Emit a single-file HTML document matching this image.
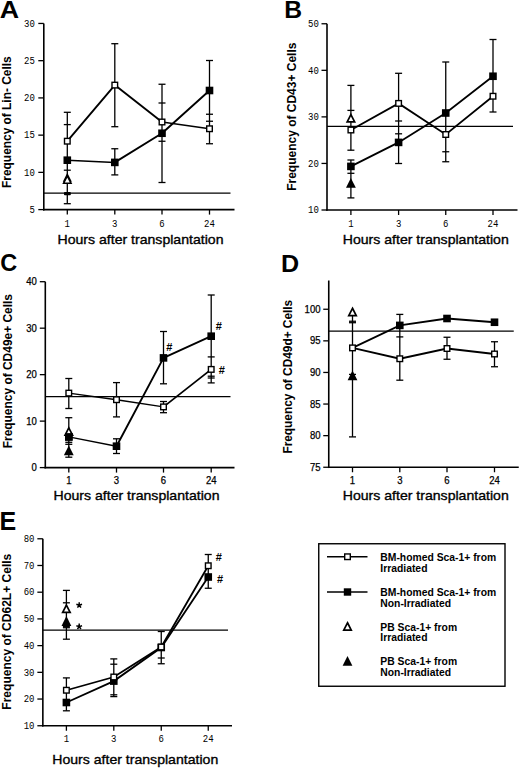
<!DOCTYPE html>
<html><head><meta charset="utf-8"><style>
html,body{margin:0;padding:0;background:#fff;}
svg{display:block;}
</style></head><body>
<svg width="520" height="768" viewBox="0 0 520 768">
<rect width="520" height="768" fill="#fff"/>
<g stroke="#000" fill="#000" font-family='"Liberation Sans", sans-serif'>
<text stroke="none" transform="translate(-0.30,17.50) scale(1.15,1)" x="0" y="0" font-size="23.3" font-weight="bold" font-family='"Liberation Sans", sans-serif'>A</text>
<line x1="43.80" y1="23.45" x2="43.80" y2="210.40" stroke-width="1.6"/>
<line x1="43.00" y1="209.60" x2="234.50" y2="209.60" stroke-width="1.6"/>
<line x1="38.30" y1="23.45" x2="43.80" y2="23.45" stroke-width="1.3"/>
<text stroke="none" x="34.80" y="26.65" font-size="10" text-anchor="end" font-family='"Liberation Mono", monospace' textLength="10.8" lengthAdjust="spacingAndGlyphs">30</text>
<line x1="38.30" y1="60.68" x2="43.80" y2="60.68" stroke-width="1.3"/>
<text stroke="none" x="34.80" y="63.88" font-size="10" text-anchor="end" font-family='"Liberation Mono", monospace' textLength="10.8" lengthAdjust="spacingAndGlyphs">25</text>
<line x1="38.30" y1="97.91" x2="43.80" y2="97.91" stroke-width="1.3"/>
<text stroke="none" x="34.80" y="101.11" font-size="10" text-anchor="end" font-family='"Liberation Mono", monospace' textLength="10.8" lengthAdjust="spacingAndGlyphs">20</text>
<line x1="38.30" y1="135.14" x2="43.80" y2="135.14" stroke-width="1.3"/>
<text stroke="none" x="34.80" y="138.34" font-size="10" text-anchor="end" font-family='"Liberation Mono", monospace' textLength="10.8" lengthAdjust="spacingAndGlyphs">15</text>
<line x1="38.30" y1="172.37" x2="43.80" y2="172.37" stroke-width="1.3"/>
<text stroke="none" x="34.80" y="175.57" font-size="10" text-anchor="end" font-family='"Liberation Mono", monospace' textLength="10.8" lengthAdjust="spacingAndGlyphs">10</text>
<line x1="38.30" y1="209.60" x2="43.80" y2="209.60" stroke-width="1.3"/>
<text stroke="none" x="34.80" y="212.80" font-size="10" text-anchor="end" font-family='"Liberation Mono", monospace' textLength="5.4" lengthAdjust="spacingAndGlyphs">5</text>
<line x1="67.30" y1="209.60" x2="67.30" y2="214.60" stroke-width="1.3"/>
<text stroke="none" x="67.30" y="226.70" font-size="10" text-anchor="middle" font-family='"Liberation Mono", monospace' textLength="5.4" lengthAdjust="spacingAndGlyphs">1</text>
<line x1="114.80" y1="209.60" x2="114.80" y2="214.60" stroke-width="1.3"/>
<text stroke="none" x="114.80" y="226.70" font-size="10" text-anchor="middle" font-family='"Liberation Mono", monospace' textLength="5.4" lengthAdjust="spacingAndGlyphs">3</text>
<line x1="162.00" y1="209.60" x2="162.00" y2="214.60" stroke-width="1.3"/>
<text stroke="none" x="162.00" y="226.70" font-size="10" text-anchor="middle" font-family='"Liberation Mono", monospace' textLength="5.4" lengthAdjust="spacingAndGlyphs">6</text>
<line x1="209.50" y1="209.60" x2="209.50" y2="214.60" stroke-width="1.3"/>
<text stroke="none" x="209.50" y="226.70" font-size="10" text-anchor="middle" font-family='"Liberation Mono", monospace' textLength="10.8" lengthAdjust="spacingAndGlyphs">24</text>
<text stroke="#000" stroke-width="0.35" x="57.50" y="244.20" font-size="13.6" font-family='"Liberation Sans", sans-serif' textLength="166" lengthAdjust="spacingAndGlyphs">Hours after transplantation</text>
<text stroke="none" transform="translate(10.70,187.90) rotate(-90)" x="0" y="0" font-size="12" font-weight="bold" font-family='"Liberation Sans", sans-serif' textLength="131.5" lengthAdjust="spacingAndGlyphs">Frequency of Lin- Cells</text>
<line x1="43.80" y1="193.20" x2="230.50" y2="193.20" stroke-width="1.25"/>
<line x1="67.30" y1="112.30" x2="67.30" y2="203.70" stroke-width="1.3"/>
<line x1="63.80" y1="112.30" x2="70.80" y2="112.30" stroke-width="1.3"/>
<line x1="63.80" y1="124.60" x2="70.80" y2="124.60" stroke-width="1.3"/>
<line x1="63.80" y1="170.20" x2="70.80" y2="170.20" stroke-width="1.3"/>
<line x1="63.80" y1="203.70" x2="70.80" y2="203.70" stroke-width="1.3"/>
<line x1="114.80" y1="43.70" x2="114.80" y2="126.70" stroke-width="1.3"/>
<line x1="114.80" y1="148.75" x2="114.80" y2="174.90" stroke-width="1.3"/>
<line x1="111.30" y1="43.70" x2="118.30" y2="43.70" stroke-width="1.3"/>
<line x1="111.30" y1="126.70" x2="118.30" y2="126.70" stroke-width="1.3"/>
<line x1="111.30" y1="148.75" x2="118.30" y2="148.75" stroke-width="1.3"/>
<line x1="111.30" y1="174.90" x2="118.30" y2="174.90" stroke-width="1.3"/>
<line x1="162.00" y1="84.25" x2="162.00" y2="182.50" stroke-width="1.3"/>
<line x1="158.50" y1="84.25" x2="165.50" y2="84.25" stroke-width="1.3"/>
<line x1="158.50" y1="103.00" x2="165.50" y2="103.00" stroke-width="1.3"/>
<line x1="158.50" y1="141.25" x2="165.50" y2="141.25" stroke-width="1.3"/>
<line x1="158.50" y1="182.50" x2="165.50" y2="182.50" stroke-width="1.3"/>
<line x1="209.50" y1="60.50" x2="209.50" y2="143.75" stroke-width="1.3"/>
<line x1="206.00" y1="60.50" x2="213.00" y2="60.50" stroke-width="1.3"/>
<line x1="206.00" y1="114.25" x2="213.00" y2="114.25" stroke-width="1.3"/>
<line x1="206.00" y1="121.25" x2="213.00" y2="121.25" stroke-width="1.3"/>
<line x1="206.00" y1="143.75" x2="213.00" y2="143.75" stroke-width="1.3"/>
<line x1="67.30" y1="141.20" x2="114.80" y2="85.10" stroke-width="1.9" stroke-linecap="round"/>
<line x1="114.80" y1="85.10" x2="162.00" y2="122.00" stroke-width="1.9" stroke-linecap="round"/>
<line x1="162.00" y1="122.00" x2="209.50" y2="128.75" stroke-width="1.5" stroke-linecap="round"/>
<line x1="67.30" y1="160.20" x2="114.80" y2="162.40" stroke-width="1.5" stroke-linecap="round"/>
<line x1="114.80" y1="162.40" x2="162.00" y2="133.25" stroke-width="1.9" stroke-linecap="round"/>
<line x1="162.00" y1="133.25" x2="209.50" y2="90.50" stroke-width="1.9" stroke-linecap="round"/>
<rect x="64.50" y="138.40" width="5.60" height="5.60" fill="#fff" stroke-width="1.4"/>
<rect x="112.00" y="82.30" width="5.60" height="5.60" fill="#fff" stroke-width="1.4"/>
<rect x="159.20" y="119.20" width="5.60" height="5.60" fill="#fff" stroke-width="1.4"/>
<rect x="206.70" y="125.95" width="5.60" height="5.60" fill="#fff" stroke-width="1.4"/>
<rect x="63.50" y="156.40" width="7.60" height="7.60" fill="#000" stroke="none"/>
<rect x="111.00" y="158.60" width="7.60" height="7.60" fill="#000" stroke="none"/>
<rect x="158.20" y="129.45" width="7.60" height="7.60" fill="#000" stroke="none"/>
<rect x="205.70" y="86.70" width="7.60" height="7.60" fill="#000" stroke="none"/>
<path d="M67.30,172.80 L71.80,181.80 L62.80,181.80 Z" fill="#000" stroke="none"/>
<path d="M67.30,175.99 L71.00,183.21 L63.60,183.21 Z" fill="#fff" stroke-width="1.6" stroke-linejoin="miter"/>
<rect x="64.0" y="192.0" width="6.8" height="3.2" rx="0.8" fill="#000" stroke="none"/>
<text stroke="none" transform="translate(284.30,17.90) scale(1.05,1)" x="0" y="0" font-size="23.5" font-weight="bold" font-family='"Liberation Sans", sans-serif'>B</text>
<line x1="327.00" y1="23.76" x2="327.00" y2="210.80" stroke-width="1.6"/>
<line x1="326.20" y1="210.00" x2="517.50" y2="210.00" stroke-width="1.6"/>
<line x1="321.50" y1="23.76" x2="327.00" y2="23.76" stroke-width="1.3"/>
<text stroke="none" x="318.90" y="26.96" font-size="10" text-anchor="end" font-family='"Liberation Mono", monospace' textLength="10.8" lengthAdjust="spacingAndGlyphs">50</text>
<line x1="321.50" y1="70.32" x2="327.00" y2="70.32" stroke-width="1.3"/>
<text stroke="none" x="318.90" y="73.52" font-size="10" text-anchor="end" font-family='"Liberation Mono", monospace' textLength="10.8" lengthAdjust="spacingAndGlyphs">40</text>
<line x1="321.50" y1="116.88" x2="327.00" y2="116.88" stroke-width="1.3"/>
<text stroke="none" x="318.90" y="120.08" font-size="10" text-anchor="end" font-family='"Liberation Mono", monospace' textLength="10.8" lengthAdjust="spacingAndGlyphs">30</text>
<line x1="321.50" y1="163.44" x2="327.00" y2="163.44" stroke-width="1.3"/>
<text stroke="none" x="318.90" y="166.64" font-size="10" text-anchor="end" font-family='"Liberation Mono", monospace' textLength="10.8" lengthAdjust="spacingAndGlyphs">20</text>
<line x1="321.50" y1="210.00" x2="327.00" y2="210.00" stroke-width="1.3"/>
<text stroke="none" x="318.90" y="213.20" font-size="10" text-anchor="end" font-family='"Liberation Mono", monospace' textLength="10.8" lengthAdjust="spacingAndGlyphs">10</text>
<line x1="350.90" y1="210.00" x2="350.90" y2="215.00" stroke-width="1.3"/>
<text stroke="none" x="350.90" y="226.95" font-size="10" text-anchor="middle" font-family='"Liberation Mono", monospace' textLength="5.4" lengthAdjust="spacingAndGlyphs">1</text>
<line x1="398.60" y1="210.00" x2="398.60" y2="215.00" stroke-width="1.3"/>
<text stroke="none" x="398.60" y="226.95" font-size="10" text-anchor="middle" font-family='"Liberation Mono", monospace' textLength="5.4" lengthAdjust="spacingAndGlyphs">3</text>
<line x1="445.75" y1="210.00" x2="445.75" y2="215.00" stroke-width="1.3"/>
<text stroke="none" x="445.75" y="226.95" font-size="10" text-anchor="middle" font-family='"Liberation Mono", monospace' textLength="5.4" lengthAdjust="spacingAndGlyphs">6</text>
<line x1="493.00" y1="210.00" x2="493.00" y2="215.00" stroke-width="1.3"/>
<text stroke="none" x="493.00" y="226.95" font-size="10" text-anchor="middle" font-family='"Liberation Mono", monospace' textLength="10.8" lengthAdjust="spacingAndGlyphs">24</text>
<text stroke="#000" stroke-width="0.35" x="342.75" y="244.30" font-size="13.6" font-family='"Liberation Sans", sans-serif' textLength="166" lengthAdjust="spacingAndGlyphs">Hours after transplantation</text>
<text stroke="none" transform="translate(295.60,190.80) rotate(-90)" x="0" y="0" font-size="12" font-weight="bold" font-family='"Liberation Sans", sans-serif' textLength="148.2" lengthAdjust="spacingAndGlyphs">Frequency of CD43+ Cells</text>
<line x1="327.00" y1="126.30" x2="513.00" y2="126.30" stroke-width="1.25"/>
<line x1="350.90" y1="85.40" x2="350.90" y2="150.20" stroke-width="1.3"/>
<line x1="350.90" y1="160.00" x2="350.90" y2="197.90" stroke-width="1.3"/>
<line x1="347.40" y1="85.40" x2="354.40" y2="85.40" stroke-width="1.3"/>
<line x1="347.40" y1="110.40" x2="354.40" y2="110.40" stroke-width="1.3"/>
<line x1="347.40" y1="150.20" x2="354.40" y2="150.20" stroke-width="1.3"/>
<line x1="347.40" y1="160.00" x2="354.40" y2="160.00" stroke-width="1.3"/>
<line x1="347.40" y1="173.30" x2="354.40" y2="173.30" stroke-width="1.3"/>
<line x1="347.40" y1="197.90" x2="354.40" y2="197.90" stroke-width="1.3"/>
<line x1="398.60" y1="73.30" x2="398.60" y2="163.50" stroke-width="1.3"/>
<line x1="395.10" y1="73.30" x2="402.10" y2="73.30" stroke-width="1.3"/>
<line x1="395.10" y1="121.00" x2="402.10" y2="121.00" stroke-width="1.3"/>
<line x1="395.10" y1="133.80" x2="402.10" y2="133.80" stroke-width="1.3"/>
<line x1="395.10" y1="163.50" x2="402.10" y2="163.50" stroke-width="1.3"/>
<line x1="445.75" y1="62.00" x2="445.75" y2="161.75" stroke-width="1.3"/>
<line x1="442.25" y1="62.00" x2="449.25" y2="62.00" stroke-width="1.3"/>
<line x1="442.25" y1="151.75" x2="449.25" y2="151.75" stroke-width="1.3"/>
<line x1="442.25" y1="161.75" x2="449.25" y2="161.75" stroke-width="1.3"/>
<line x1="493.00" y1="39.50" x2="493.00" y2="112.00" stroke-width="1.3"/>
<line x1="489.50" y1="39.50" x2="496.50" y2="39.50" stroke-width="1.3"/>
<line x1="489.50" y1="112.00" x2="496.50" y2="112.00" stroke-width="1.3"/>
<polyline points="350.90,130.00 398.60,103.40 445.75,134.50 493.00,96.25" fill="none" stroke-width="1.8"/>
<polyline points="350.90,166.40 398.60,142.40 445.75,113.00 493.00,76.25" fill="none" stroke-width="1.8"/>
<rect x="348.10" y="127.20" width="5.60" height="5.60" fill="#fff" stroke-width="1.4"/>
<rect x="395.80" y="100.60" width="5.60" height="5.60" fill="#fff" stroke-width="1.4"/>
<rect x="442.95" y="131.70" width="5.60" height="5.60" fill="#fff" stroke-width="1.4"/>
<rect x="490.20" y="93.45" width="5.60" height="5.60" fill="#fff" stroke-width="1.4"/>
<rect x="347.10" y="162.60" width="7.60" height="7.60" fill="#000" stroke="none"/>
<rect x="394.80" y="138.60" width="7.60" height="7.60" fill="#000" stroke="none"/>
<rect x="441.95" y="109.20" width="7.60" height="7.60" fill="#000" stroke="none"/>
<rect x="489.20" y="72.45" width="7.60" height="7.60" fill="#000" stroke="none"/>
<path d="M350.90,114.54 L354.65,121.86 L347.15,121.86 Z" fill="#fff" stroke-width="1.7" stroke-linejoin="miter"/>
<path d="M350.90,178.00 L355.80,187.80 L346.00,187.80 Z" fill="#000" stroke="none"/>
<text stroke="none" transform="translate(0.30,271.20) scale(1.0,1)" x="0" y="0" font-size="23.5" font-weight="bold" font-family='"Liberation Sans", sans-serif'>C</text>
<line x1="45.30" y1="281.70" x2="45.30" y2="468.40" stroke-width="1.6"/>
<line x1="44.50" y1="467.60" x2="234.50" y2="467.60" stroke-width="1.6"/>
<line x1="39.80" y1="281.70" x2="45.30" y2="281.70" stroke-width="1.3"/>
<text stroke="#000" stroke-width="0.25" x="36.80" y="285.30" font-size="10" text-anchor="end" font-family='"Liberation Sans", sans-serif' textLength="10.6" lengthAdjust="spacingAndGlyphs">40</text>
<line x1="39.80" y1="328.18" x2="45.30" y2="328.18" stroke-width="1.3"/>
<text stroke="#000" stroke-width="0.25" x="36.80" y="331.78" font-size="10" text-anchor="end" font-family='"Liberation Sans", sans-serif' textLength="10.6" lengthAdjust="spacingAndGlyphs">30</text>
<line x1="39.80" y1="374.65" x2="45.30" y2="374.65" stroke-width="1.3"/>
<text stroke="#000" stroke-width="0.25" x="36.80" y="378.25" font-size="10" text-anchor="end" font-family='"Liberation Sans", sans-serif' textLength="10.6" lengthAdjust="spacingAndGlyphs">20</text>
<line x1="39.80" y1="421.12" x2="45.30" y2="421.12" stroke-width="1.3"/>
<text stroke="#000" stroke-width="0.25" x="36.80" y="424.73" font-size="10" text-anchor="end" font-family='"Liberation Sans", sans-serif' textLength="10.6" lengthAdjust="spacingAndGlyphs">10</text>
<line x1="39.80" y1="467.60" x2="45.30" y2="467.60" stroke-width="1.3"/>
<text stroke="#000" stroke-width="0.25" x="36.80" y="471.20" font-size="10" text-anchor="end" font-family='"Liberation Sans", sans-serif' textLength="5.3" lengthAdjust="spacingAndGlyphs">0</text>
<line x1="68.80" y1="467.60" x2="68.80" y2="472.60" stroke-width="1.3"/>
<text stroke="#000" stroke-width="0.25" x="68.80" y="483.85" font-size="10" text-anchor="middle" font-family='"Liberation Sans", sans-serif' textLength="5.3" lengthAdjust="spacingAndGlyphs">1</text>
<line x1="116.50" y1="467.60" x2="116.50" y2="472.60" stroke-width="1.3"/>
<text stroke="#000" stroke-width="0.25" x="116.50" y="483.85" font-size="10" text-anchor="middle" font-family='"Liberation Sans", sans-serif' textLength="5.3" lengthAdjust="spacingAndGlyphs">3</text>
<line x1="163.50" y1="467.60" x2="163.50" y2="472.60" stroke-width="1.3"/>
<text stroke="#000" stroke-width="0.25" x="163.50" y="483.85" font-size="10" text-anchor="middle" font-family='"Liberation Sans", sans-serif' textLength="5.3" lengthAdjust="spacingAndGlyphs">6</text>
<line x1="211.20" y1="467.60" x2="211.20" y2="472.60" stroke-width="1.3"/>
<text stroke="#000" stroke-width="0.25" x="211.20" y="483.85" font-size="10" text-anchor="middle" font-family='"Liberation Sans", sans-serif' textLength="10.6" lengthAdjust="spacingAndGlyphs">24</text>
<text stroke="#000" stroke-width="0.35" x="53.50" y="500.30" font-size="13.6" font-family='"Liberation Sans", sans-serif' textLength="166" lengthAdjust="spacingAndGlyphs">Hours after transplantation</text>
<text stroke="none" transform="translate(11.80,448.30) rotate(-90)" x="0" y="0" font-size="12" font-weight="bold" font-family='"Liberation Sans", sans-serif' textLength="154.3" lengthAdjust="spacingAndGlyphs">Frequency of CD49e+ Cells</text>
<line x1="45.30" y1="396.50" x2="230.50" y2="396.50" stroke-width="1.25"/>
<line x1="68.80" y1="378.50" x2="68.80" y2="408.50" stroke-width="1.3"/>
<line x1="68.80" y1="417.70" x2="68.80" y2="457.20" stroke-width="1.3"/>
<line x1="65.30" y1="378.50" x2="72.30" y2="378.50" stroke-width="1.3"/>
<line x1="65.30" y1="408.50" x2="72.30" y2="408.50" stroke-width="1.3"/>
<line x1="65.30" y1="417.70" x2="72.30" y2="417.70" stroke-width="1.3"/>
<line x1="65.30" y1="442.30" x2="72.30" y2="442.30" stroke-width="1.3"/>
<line x1="65.30" y1="444.30" x2="72.30" y2="444.30" stroke-width="1.3"/>
<line x1="65.30" y1="457.20" x2="72.30" y2="457.20" stroke-width="1.3"/>
<line x1="116.50" y1="382.60" x2="116.50" y2="416.90" stroke-width="1.3"/>
<line x1="116.50" y1="438.80" x2="116.50" y2="453.50" stroke-width="1.3"/>
<line x1="113.00" y1="382.60" x2="120.00" y2="382.60" stroke-width="1.3"/>
<line x1="113.00" y1="416.90" x2="120.00" y2="416.90" stroke-width="1.3"/>
<line x1="113.00" y1="438.80" x2="120.00" y2="438.80" stroke-width="1.3"/>
<line x1="113.00" y1="453.50" x2="120.00" y2="453.50" stroke-width="1.3"/>
<line x1="163.50" y1="331.50" x2="163.50" y2="383.80" stroke-width="1.3"/>
<line x1="163.50" y1="401.50" x2="163.50" y2="412.70" stroke-width="1.3"/>
<line x1="160.00" y1="331.50" x2="167.00" y2="331.50" stroke-width="1.3"/>
<line x1="160.00" y1="383.80" x2="167.00" y2="383.80" stroke-width="1.3"/>
<line x1="160.00" y1="401.50" x2="167.00" y2="401.50" stroke-width="1.3"/>
<line x1="160.00" y1="412.70" x2="167.00" y2="412.70" stroke-width="1.3"/>
<line x1="211.20" y1="295.00" x2="211.20" y2="382.90" stroke-width="1.3"/>
<line x1="207.70" y1="295.00" x2="214.70" y2="295.00" stroke-width="1.3"/>
<line x1="207.70" y1="356.90" x2="214.70" y2="356.90" stroke-width="1.3"/>
<line x1="207.70" y1="376.20" x2="214.70" y2="376.20" stroke-width="1.3"/>
<line x1="207.70" y1="378.00" x2="214.70" y2="378.00" stroke-width="1.3"/>
<line x1="207.70" y1="382.90" x2="214.70" y2="382.90" stroke-width="1.3"/>
<line x1="68.80" y1="393.10" x2="116.50" y2="399.70" stroke-width="1.4" stroke-linecap="round"/>
<line x1="116.50" y1="399.70" x2="163.50" y2="406.90" stroke-width="1.4" stroke-linecap="round"/>
<line x1="163.50" y1="406.90" x2="211.20" y2="369.40" stroke-width="1.8" stroke-linecap="round"/>
<line x1="68.80" y1="436.90" x2="116.50" y2="446.20" stroke-width="1.4" stroke-linecap="round"/>
<line x1="116.50" y1="446.20" x2="163.50" y2="357.90" stroke-width="1.9" stroke-linecap="round"/>
<line x1="163.50" y1="357.90" x2="211.20" y2="336.20" stroke-width="1.9" stroke-linecap="round"/>
<rect x="66.00" y="390.30" width="5.60" height="5.60" fill="#fff" stroke-width="1.4"/>
<rect x="113.70" y="396.90" width="5.60" height="5.60" fill="#fff" stroke-width="1.4"/>
<rect x="160.70" y="404.10" width="5.60" height="5.60" fill="#fff" stroke-width="1.4"/>
<rect x="208.40" y="366.60" width="5.60" height="5.60" fill="#fff" stroke-width="1.4"/>
<rect x="65.00" y="433.10" width="7.60" height="7.60" fill="#000" stroke="none"/>
<rect x="112.70" y="442.40" width="7.60" height="7.60" fill="#000" stroke="none"/>
<rect x="159.70" y="354.10" width="7.60" height="7.60" fill="#000" stroke="none"/>
<rect x="207.40" y="332.40" width="7.60" height="7.60" fill="#000" stroke="none"/>
<path d="M68.80,427.84 L72.55,435.16 L65.05,435.16 Z" fill="#fff" stroke-width="1.7" stroke-linejoin="miter"/>
<rect x="65.00" y="433.10" width="7.60" height="7.60" fill="#000" stroke="none"/>
<path d="M68.80,445.40 L73.70,455.20 L63.90,455.20 Z" fill="#000" stroke="none"/>
<text stroke="none" x="169.20" y="350.90" font-size="11" font-weight="bold" text-anchor="middle" font-family='"Liberation Sans", sans-serif'>#</text>
<text stroke="none" x="218.80" y="329.80" font-size="11" font-weight="bold" text-anchor="middle" font-family='"Liberation Sans", sans-serif'>#</text>
<text stroke="none" x="221.70" y="374.40" font-size="11" font-weight="bold" text-anchor="middle" font-family='"Liberation Sans", sans-serif'>#</text>
<text stroke="none" transform="translate(281.00,271.90) scale(1.07,1)" x="0" y="0" font-size="23.5" font-weight="bold" font-family='"Liberation Sans", sans-serif'>D</text>
<line x1="328.75" y1="280.50" x2="328.75" y2="468.05" stroke-width="1.6"/>
<line x1="327.95" y1="467.25" x2="518.75" y2="467.25" stroke-width="1.6"/>
<line x1="323.25" y1="309.25" x2="328.75" y2="309.25" stroke-width="1.3"/>
<text stroke="#000" stroke-width="0.25" x="320.50" y="312.85" font-size="10" text-anchor="end" font-family='"Liberation Sans", sans-serif' textLength="15.9" lengthAdjust="spacingAndGlyphs">100</text>
<line x1="323.25" y1="340.85" x2="328.75" y2="340.85" stroke-width="1.3"/>
<text stroke="#000" stroke-width="0.25" x="320.50" y="344.45" font-size="10" text-anchor="end" font-family='"Liberation Sans", sans-serif' textLength="10.6" lengthAdjust="spacingAndGlyphs">95</text>
<line x1="323.25" y1="372.45" x2="328.75" y2="372.45" stroke-width="1.3"/>
<text stroke="#000" stroke-width="0.25" x="320.50" y="376.05" font-size="10" text-anchor="end" font-family='"Liberation Sans", sans-serif' textLength="10.6" lengthAdjust="spacingAndGlyphs">90</text>
<line x1="323.25" y1="404.05" x2="328.75" y2="404.05" stroke-width="1.3"/>
<text stroke="#000" stroke-width="0.25" x="320.50" y="407.65" font-size="10" text-anchor="end" font-family='"Liberation Sans", sans-serif' textLength="10.6" lengthAdjust="spacingAndGlyphs">85</text>
<line x1="323.25" y1="435.65" x2="328.75" y2="435.65" stroke-width="1.3"/>
<text stroke="#000" stroke-width="0.25" x="320.50" y="439.25" font-size="10" text-anchor="end" font-family='"Liberation Sans", sans-serif' textLength="10.6" lengthAdjust="spacingAndGlyphs">80</text>
<line x1="323.25" y1="467.25" x2="328.75" y2="467.25" stroke-width="1.3"/>
<text stroke="#000" stroke-width="0.25" x="320.50" y="470.85" font-size="10" text-anchor="end" font-family='"Liberation Sans", sans-serif' textLength="10.6" lengthAdjust="spacingAndGlyphs">75</text>
<line x1="352.50" y1="467.25" x2="352.50" y2="472.25" stroke-width="1.3"/>
<text stroke="#000" stroke-width="0.25" x="352.50" y="483.85" font-size="10" text-anchor="middle" font-family='"Liberation Sans", sans-serif' textLength="5.3" lengthAdjust="spacingAndGlyphs">1</text>
<line x1="399.80" y1="467.25" x2="399.80" y2="472.25" stroke-width="1.3"/>
<text stroke="#000" stroke-width="0.25" x="399.80" y="483.85" font-size="10" text-anchor="middle" font-family='"Liberation Sans", sans-serif' textLength="5.3" lengthAdjust="spacingAndGlyphs">3</text>
<line x1="447.00" y1="467.25" x2="447.00" y2="472.25" stroke-width="1.3"/>
<text stroke="#000" stroke-width="0.25" x="447.00" y="483.85" font-size="10" text-anchor="middle" font-family='"Liberation Sans", sans-serif' textLength="5.3" lengthAdjust="spacingAndGlyphs">6</text>
<line x1="494.50" y1="467.25" x2="494.50" y2="472.25" stroke-width="1.3"/>
<text stroke="#000" stroke-width="0.25" x="494.50" y="483.85" font-size="10" text-anchor="middle" font-family='"Liberation Sans", sans-serif' textLength="10.6" lengthAdjust="spacingAndGlyphs">24</text>
<text stroke="#000" stroke-width="0.35" x="342.75" y="500.30" font-size="13.6" font-family='"Liberation Sans", sans-serif' textLength="166" lengthAdjust="spacingAndGlyphs">Hours after transplantation</text>
<text stroke="none" transform="translate(291.80,453.60) rotate(-90)" x="0" y="0" font-size="12" font-weight="bold" font-family='"Liberation Sans", sans-serif' textLength="153.8" lengthAdjust="spacingAndGlyphs">Frequency of CD49d+ Cells</text>
<line x1="328.75" y1="331.00" x2="513.75" y2="331.00" stroke-width="1.25"/>
<line x1="352.50" y1="315.50" x2="352.50" y2="436.90" stroke-width="1.3"/>
<line x1="349.00" y1="321.25" x2="356.00" y2="321.25" stroke-width="1.3"/>
<line x1="349.00" y1="322.70" x2="356.00" y2="322.70" stroke-width="1.3"/>
<line x1="349.00" y1="374.40" x2="356.00" y2="374.40" stroke-width="1.3"/>
<line x1="349.00" y1="436.90" x2="356.00" y2="436.90" stroke-width="1.3"/>
<line x1="399.80" y1="314.40" x2="399.80" y2="380.20" stroke-width="1.3"/>
<line x1="396.30" y1="314.40" x2="403.30" y2="314.40" stroke-width="1.3"/>
<line x1="396.30" y1="336.90" x2="403.30" y2="336.90" stroke-width="1.3"/>
<line x1="396.30" y1="380.20" x2="403.30" y2="380.20" stroke-width="1.3"/>
<line x1="447.00" y1="337.25" x2="447.00" y2="359.25" stroke-width="1.3"/>
<line x1="443.50" y1="337.25" x2="450.50" y2="337.25" stroke-width="1.3"/>
<line x1="443.50" y1="359.25" x2="450.50" y2="359.25" stroke-width="1.3"/>
<line x1="494.50" y1="341.75" x2="494.50" y2="366.75" stroke-width="1.3"/>
<line x1="491.00" y1="341.75" x2="498.00" y2="341.75" stroke-width="1.3"/>
<line x1="491.00" y1="366.75" x2="498.00" y2="366.75" stroke-width="1.3"/>
<polyline points="352.50,347.90 399.80,358.75 447.00,348.50 494.50,354.00" fill="none" stroke-width="1.8"/>
<polyline points="352.50,347.90 399.80,325.40 447.00,318.50 494.50,322.25" fill="none" stroke-width="1.8"/>
<rect x="396.00" y="321.60" width="7.60" height="7.60" fill="#000" stroke="none"/>
<rect x="443.20" y="314.70" width="7.60" height="7.60" fill="#000" stroke="none"/>
<rect x="490.70" y="318.45" width="7.60" height="7.60" fill="#000" stroke="none"/>
<rect x="349.70" y="345.10" width="5.60" height="5.60" fill="#fff" stroke-width="1.4"/>
<rect x="397.00" y="355.95" width="5.60" height="5.60" fill="#fff" stroke-width="1.4"/>
<rect x="444.20" y="345.70" width="5.60" height="5.60" fill="#fff" stroke-width="1.4"/>
<rect x="491.70" y="351.20" width="5.60" height="5.60" fill="#fff" stroke-width="1.4"/>
<path d="M352.50,308.24 L356.25,315.56 L348.75,315.56 Z" fill="#fff" stroke-width="1.7" stroke-linejoin="miter"/>
<path d="M352.50,370.50 L357.40,380.30 L347.60,380.30 Z" fill="#000" stroke="none"/>
<text stroke="none" transform="translate(-0.50,529.60) scale(1.0,1)" x="0" y="0" font-size="25" font-weight="bold" font-family='"Liberation Sans", sans-serif'>E</text>
<line x1="42.85" y1="538.78" x2="42.85" y2="726.55" stroke-width="1.6"/>
<line x1="42.05" y1="725.75" x2="232.00" y2="725.75" stroke-width="1.6"/>
<line x1="37.35" y1="538.78" x2="42.85" y2="538.78" stroke-width="1.3"/>
<text stroke="none" x="34.50" y="541.98" font-size="10" text-anchor="end" font-family='"Liberation Mono", monospace' textLength="10.8" lengthAdjust="spacingAndGlyphs">80</text>
<line x1="37.35" y1="565.49" x2="42.85" y2="565.49" stroke-width="1.3"/>
<text stroke="none" x="34.50" y="568.69" font-size="10" text-anchor="end" font-family='"Liberation Mono", monospace' textLength="10.8" lengthAdjust="spacingAndGlyphs">70</text>
<line x1="37.35" y1="592.20" x2="42.85" y2="592.20" stroke-width="1.3"/>
<text stroke="none" x="34.50" y="595.40" font-size="10" text-anchor="end" font-family='"Liberation Mono", monospace' textLength="10.8" lengthAdjust="spacingAndGlyphs">60</text>
<line x1="37.35" y1="618.91" x2="42.85" y2="618.91" stroke-width="1.3"/>
<text stroke="none" x="34.50" y="622.11" font-size="10" text-anchor="end" font-family='"Liberation Mono", monospace' textLength="10.8" lengthAdjust="spacingAndGlyphs">50</text>
<line x1="37.35" y1="645.62" x2="42.85" y2="645.62" stroke-width="1.3"/>
<text stroke="none" x="34.50" y="648.82" font-size="10" text-anchor="end" font-family='"Liberation Mono", monospace' textLength="10.8" lengthAdjust="spacingAndGlyphs">40</text>
<line x1="37.35" y1="672.33" x2="42.85" y2="672.33" stroke-width="1.3"/>
<text stroke="none" x="34.50" y="675.53" font-size="10" text-anchor="end" font-family='"Liberation Mono", monospace' textLength="10.8" lengthAdjust="spacingAndGlyphs">30</text>
<line x1="37.35" y1="699.04" x2="42.85" y2="699.04" stroke-width="1.3"/>
<text stroke="none" x="34.50" y="702.24" font-size="10" text-anchor="end" font-family='"Liberation Mono", monospace' textLength="10.8" lengthAdjust="spacingAndGlyphs">20</text>
<line x1="37.35" y1="725.75" x2="42.85" y2="725.75" stroke-width="1.3"/>
<text stroke="none" x="34.50" y="728.95" font-size="10" text-anchor="end" font-family='"Liberation Mono", monospace' textLength="10.8" lengthAdjust="spacingAndGlyphs">10</text>
<line x1="66.40" y1="725.75" x2="66.40" y2="730.75" stroke-width="1.3"/>
<text stroke="none" x="66.40" y="742.45" font-size="10" text-anchor="middle" font-family='"Liberation Mono", monospace' textLength="5.4" lengthAdjust="spacingAndGlyphs">1</text>
<line x1="113.80" y1="725.75" x2="113.80" y2="730.75" stroke-width="1.3"/>
<text stroke="none" x="113.80" y="742.45" font-size="10" text-anchor="middle" font-family='"Liberation Mono", monospace' textLength="5.4" lengthAdjust="spacingAndGlyphs">3</text>
<line x1="161.25" y1="725.75" x2="161.25" y2="730.75" stroke-width="1.3"/>
<text stroke="none" x="161.25" y="742.45" font-size="10" text-anchor="middle" font-family='"Liberation Mono", monospace' textLength="5.4" lengthAdjust="spacingAndGlyphs">6</text>
<line x1="208.25" y1="725.75" x2="208.25" y2="730.75" stroke-width="1.3"/>
<text stroke="none" x="208.25" y="742.45" font-size="10" text-anchor="middle" font-family='"Liberation Mono", monospace' textLength="10.8" lengthAdjust="spacingAndGlyphs">24</text>
<text stroke="#000" stroke-width="0.35" x="52.25" y="764.30" font-size="13.6" font-family='"Liberation Sans", sans-serif' textLength="166" lengthAdjust="spacingAndGlyphs">Hours after transplantation</text>
<text stroke="none" transform="translate(10.70,709.65) rotate(-90)" x="0" y="0" font-size="12" font-weight="bold" font-family='"Liberation Sans", sans-serif' textLength="155.9" lengthAdjust="spacingAndGlyphs">Frequency of CD62L+ Cells</text>
<line x1="42.85" y1="630.20" x2="228.00" y2="630.20" stroke-width="1.25"/>
<line x1="66.40" y1="590.40" x2="66.40" y2="639.20" stroke-width="1.3"/>
<line x1="62.90" y1="590.40" x2="69.90" y2="590.40" stroke-width="1.3"/>
<line x1="62.90" y1="602.80" x2="69.90" y2="602.80" stroke-width="1.3"/>
<line x1="62.90" y1="626.50" x2="69.90" y2="626.50" stroke-width="1.3"/>
<line x1="62.90" y1="627.70" x2="69.90" y2="627.70" stroke-width="1.3"/>
<line x1="62.90" y1="639.20" x2="69.90" y2="639.20" stroke-width="1.3"/>
<line x1="66.40" y1="677.90" x2="66.40" y2="710.80" stroke-width="1.3"/>
<line x1="62.90" y1="677.90" x2="69.90" y2="677.90" stroke-width="1.3"/>
<line x1="62.90" y1="710.80" x2="69.90" y2="710.80" stroke-width="1.3"/>
<line x1="113.80" y1="658.90" x2="113.80" y2="696.60" stroke-width="1.3"/>
<line x1="110.30" y1="658.90" x2="117.30" y2="658.90" stroke-width="1.3"/>
<line x1="110.30" y1="664.20" x2="117.30" y2="664.20" stroke-width="1.3"/>
<line x1="110.30" y1="694.80" x2="117.30" y2="694.80" stroke-width="1.3"/>
<line x1="110.30" y1="696.60" x2="117.30" y2="696.60" stroke-width="1.3"/>
<line x1="161.25" y1="631.50" x2="161.25" y2="663.75" stroke-width="1.3"/>
<line x1="157.75" y1="631.50" x2="164.75" y2="631.50" stroke-width="1.3"/>
<line x1="157.75" y1="658.00" x2="164.75" y2="658.00" stroke-width="1.3"/>
<line x1="157.75" y1="663.75" x2="164.75" y2="663.75" stroke-width="1.3"/>
<line x1="208.25" y1="554.50" x2="208.25" y2="588.25" stroke-width="1.3"/>
<line x1="204.75" y1="554.50" x2="211.75" y2="554.50" stroke-width="1.3"/>
<line x1="204.75" y1="588.25" x2="211.75" y2="588.25" stroke-width="1.3"/>
<polyline points="66.40,702.50 113.80,681.10 161.25,647.50 208.25,577.00" fill="none" stroke-width="1.8"/>
<polyline points="66.40,690.25 113.80,677.00 161.25,647.00 208.25,565.75" fill="none" stroke-width="1.8"/>
<rect x="62.60" y="698.70" width="7.60" height="7.60" fill="#000" stroke="none"/>
<rect x="110.00" y="677.30" width="7.60" height="7.60" fill="#000" stroke="none"/>
<rect x="157.45" y="643.70" width="7.60" height="7.60" fill="#000" stroke="none"/>
<rect x="204.45" y="573.20" width="7.60" height="7.60" fill="#000" stroke="none"/>
<rect x="63.60" y="687.45" width="5.60" height="5.60" fill="#fff" stroke-width="1.4"/>
<rect x="111.00" y="674.20" width="5.60" height="5.60" fill="#fff" stroke-width="1.4"/>
<rect x="158.45" y="644.20" width="5.60" height="5.60" fill="#fff" stroke-width="1.4"/>
<rect x="205.45" y="562.95" width="5.60" height="5.60" fill="#fff" stroke-width="1.4"/>
<path d="M66.40,605.14 L70.15,612.46 L62.65,612.46 Z" fill="#fff" stroke-width="1.7" stroke-linejoin="miter"/>
<path d="M66.40,616.10 L71.30,625.90 L61.50,625.90 Z" fill="#000" stroke="none"/>
<path d="M79.20,605.20 L79.20,602.20 M79.20,605.20 L82.05,604.27 M79.20,605.20 L80.96,607.63 M79.20,605.20 L77.44,607.63 M79.20,605.20 L76.35,604.27 " stroke-width="1.5" fill="none" stroke-linecap="butt"/>
<path d="M79.20,626.60 L79.20,623.60 M79.20,626.60 L82.05,625.67 M79.20,626.60 L80.96,629.03 M79.20,626.60 L77.44,629.03 M79.20,626.60 L76.35,625.67 " stroke-width="1.5" fill="none" stroke-linecap="butt"/>
<text stroke="none" x="218.75" y="561.00" font-size="11" font-weight="bold" text-anchor="middle" font-family='"Liberation Sans", sans-serif'>#</text>
<text stroke="none" x="220.00" y="583.00" font-size="11" font-weight="bold" text-anchor="middle" font-family='"Liberation Sans", sans-serif'>#</text>
<rect x="318.75" y="543.75" width="186.25" height="142.5" fill="none" stroke-width="1.4"/>
<line x1="327.00" y1="556.75" x2="367.50" y2="556.75" stroke-width="1.3"/>
<rect x="344.70" y="553.95" width="5.60" height="5.60" fill="#fff" stroke-width="1.4"/>
<line x1="327.00" y1="592.00" x2="367.50" y2="592.00" stroke-width="1.3"/>
<rect x="343.80" y="588.30" width="7.40" height="7.40" fill="#000" stroke="none"/>
<path d="M347.50,622.74 L351.25,630.06 L343.75,630.06 Z" fill="#fff" stroke-width="1.7" stroke-linejoin="miter"/>
<path d="M347.50,656.00 L352.40,665.80 L342.60,665.80 Z" fill="#000" stroke="none"/>
<text stroke="none" x="380.3" y="560.80" font-size="10" font-weight="bold" font-family='"Liberation Sans", sans-serif' textLength="115.88" lengthAdjust="spacingAndGlyphs">BM-homed Sca-1+ from</text>
<text stroke="none" x="380.3" y="571.55" font-size="10" font-weight="bold" font-family='"Liberation Sans", sans-serif' textLength="47.16" lengthAdjust="spacingAndGlyphs">Irradiated</text>
<text stroke="none" x="380.3" y="596.20" font-size="10" font-weight="bold" font-family='"Liberation Sans", sans-serif' textLength="115.88" lengthAdjust="spacingAndGlyphs">BM-homed Sca-1+ from</text>
<text stroke="none" x="380.3" y="606.95" font-size="10" font-weight="bold" font-family='"Liberation Sans", sans-serif' textLength="70.73" lengthAdjust="spacingAndGlyphs">Non-Irradiated</text>
<text stroke="none" x="380.3" y="630.50" font-size="10" font-weight="bold" font-family='"Liberation Sans", sans-serif' textLength="76.79" lengthAdjust="spacingAndGlyphs">PB Sca-1+ from</text>
<text stroke="none" x="380.3" y="641.25" font-size="10" font-weight="bold" font-family='"Liberation Sans", sans-serif' textLength="47.16" lengthAdjust="spacingAndGlyphs">Irradiated</text>
<text stroke="none" x="380.3" y="664.80" font-size="10" font-weight="bold" font-family='"Liberation Sans", sans-serif' textLength="76.79" lengthAdjust="spacingAndGlyphs">PB Sca-1+ from</text>
<text stroke="none" x="380.3" y="675.55" font-size="10" font-weight="bold" font-family='"Liberation Sans", sans-serif' textLength="70.73" lengthAdjust="spacingAndGlyphs">Non-Irradiated</text>
</g>
</svg>
</body></html>
